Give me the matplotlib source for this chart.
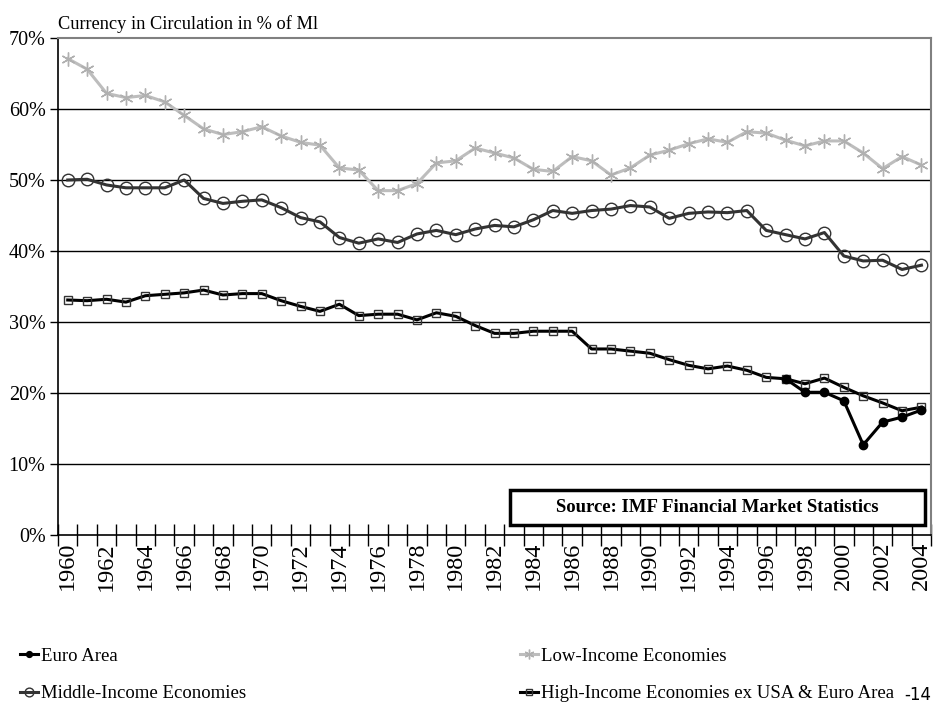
# Currency in circulation as % of M1, 1960-2004

import numpy as np
import matplotlib
matplotlib.use("Agg")
import matplotlib.pyplot as plt
from matplotlib.patches import Rectangle

plt.rcParams['font.family'] = ['Liberation Serif', 'DejaVu Serif']

# the data
years = list(range(1960, 2005))

low_income = [67.1, 65.6, 62.2, 61.6, 61.9, 61.0, 59.1, 57.2, 56.4, 56.8,
              57.5, 56.2, 55.3, 54.9, 51.7, 51.4, 48.5, 48.5, 49.5, 52.4,
              52.7, 54.5, 53.8, 53.1, 51.5, 51.2, 53.3, 52.7, 50.7, 51.7,
              53.5, 54.2, 55.1, 55.8, 55.3, 56.8, 56.6, 55.6, 54.8, 55.5,
              55.5, 53.8, 51.6, 53.3, 52.1]

middle_income = [50.0, 50.1, 49.3, 48.9, 48.9, 48.9, 50.0, 47.4, 46.7, 47.0,
                 47.2, 46.1, 44.7, 44.1, 41.9, 41.1, 41.7, 41.2, 42.4, 42.9,
                 42.3, 43.1, 43.6, 43.4, 44.4, 45.7, 45.3, 45.7, 45.9, 46.4,
                 46.2, 44.6, 45.3, 45.5, 45.4, 45.7, 42.9, 42.3, 41.7, 42.6,
                 39.3, 38.6, 38.7, 37.4, 38.0]

high_income = [33.1, 33.0, 33.2, 32.8, 33.7, 33.9, 34.1, 34.5, 33.8, 34.0,
               34.0, 33.0, 32.2, 31.5, 32.5, 30.9, 31.1, 31.1, 30.3, 31.3,
               30.8, 29.5, 28.4, 28.4, 28.7, 28.7, 28.7, 26.2, 26.2, 25.9,
               25.6, 24.7, 23.9, 23.4, 23.8, 23.2, 22.2, 22.0, 21.3, 22.1,
               20.8, 19.6, 18.6, 17.5, 18.0]

euro_years = list(range(1997, 2005))
euro_area = [22.0, 20.1, 20.1, 18.9, 12.7, 15.9, 16.6, 17.6]

# figure
fig = plt.figure(figsize=(9.33, 7.06), dpi=100)
ax = fig.add_axes([0.0622, 0.2422, 0.9358, 0.704])

l_low, = ax.plot(years, low_income, color='#bdbdbd', lw=2.2, marker=(6, 2, 0),
                 ms=10, mew=1.0, mec='#b0b0b0', label='Low-Income Economies', zorder=3)
l_mid, = ax.plot(years, middle_income, color='#333333', lw=2.2, marker='o', ms=9,
                 mfc='none', mec='#333333', mew=1.0, label='Middle-Income Economies', zorder=3)
l_high, = ax.plot(years, high_income, color='black', lw=2.2, marker='s', ms=6,
                  mfc='none', mec='#333333', mew=1.0,
                  label='High-Income Economies ex USA & Euro Area', zorder=4)
l_euro, = ax.plot(euro_years, euro_area, color='black', lw=2.2, marker='o', ms=6,
                  label='Euro Area', zorder=5)

ax.set_ylim(0, 70)
ax.set_xlim(1959.5, 2004.5)
ax.set_yticks(np.arange(0, 71, 10))
ax.set_yticklabels(['%d%%' % v for v in range(0, 71, 10)], fontsize=14.5)
ax.tick_params(axis='y', direction='out', length=6, width=1, pad=3)

ax.set_xticks(years[::2])
ax.set_xticklabels([str(y) for y in years[::2]], rotation=90, fontsize=17.5)
ax.set_xticks(np.arange(1959.5, 2005, 1), minor=True)
ax.tick_params(axis='x', which='major', length=0, pad=5)
ax.tick_params(axis='x', which='minor', direction='inout', length=16, width=1)

for v in range(10, 70, 10):
    ax.axhline(v, color='black', lw=1, zorder=1)

for s in ['top', 'right']:
    ax.spines[s].set_color('#808080')
    ax.spines[s].set_linewidth(1.5)
for s in ['left', 'bottom']:
    ax.spines[s].set_color('black')
    ax.spines[s].set_linewidth(1.2)

fig.text(0.0622, 0.953, 'Currency in Circulation in % of Ml', fontsize=13.2,
         ha='left', va='bottom')

# source box
ax.add_patch(Rectangle((0.518, 0.020), 0.475, 0.0705, transform=ax.transAxes,
                       fill=False, lw=2.5, ec='black', zorder=6))
ax.text(0.7555, 0.055, 'Source: IMF Financial Market Statistics', transform=ax.transAxes,
        ha='center', va='center', fontsize=13.5, fontweight='bold', zorder=7)

# legend, two columns placed separately
leg_kw = dict(loc='upper left', frameon=False, fontsize=13.5, handlelength=1.0,
              handletextpad=0.15, markerscale=0.7, labelspacing=1.1, borderpad=0,
              borderaxespad=0)
fig.legend([l_euro, l_mid], ['Euro Area', 'Middle-Income Economies'],
           bbox_to_anchor=(0.021, 0.083), **leg_kw)
fig.legend([l_low, l_high], ['Low-Income Economies', 'High-Income Economies ex USA & Euro Area'],
           bbox_to_anchor=(0.557, 0.083), **leg_kw)

fig.text(0.998, 0.003, '-14', fontsize=12, family='DejaVu Sans',
         ha='right', va='bottom')

plt.savefig('out.png', dpi=100)
